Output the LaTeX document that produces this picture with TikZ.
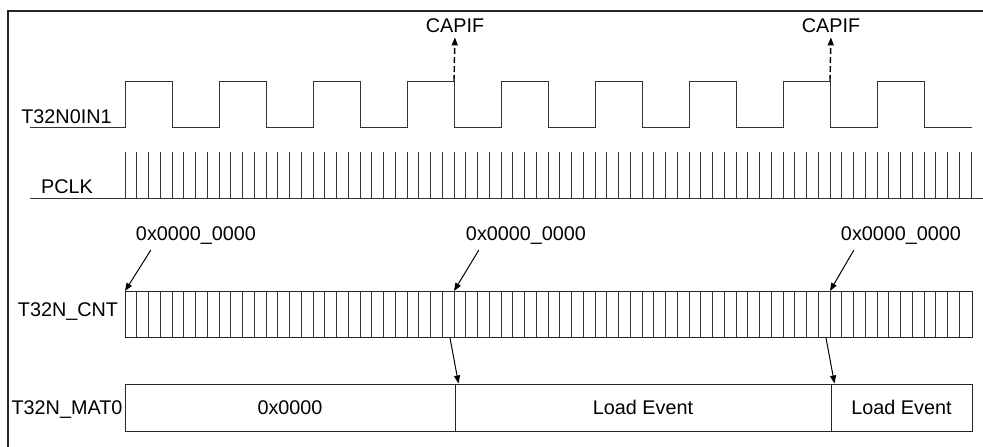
\documentclass[tikz,border=0pt]{standalone}
\usepackage{fontspec}
\setmainfont{Liberation Sans}
\usetikzlibrary{arrows.meta}
\begin{document}
\begin{tikzpicture}[x=1pt,y=-1pt,
  wave/.style={draw=black!80, line width=1pt},
  lbl/.style={font=\fontsize{19.8}{22}\selectfont, inner sep=0pt, anchor=base},
  seg/.style={draw=black!85, line width=1pt, inner sep=0pt, minimum height=47pt,
              font=\fontsize{19.8}{22}\selectfont},
  ptr/.style={draw=black, line width=1pt, -{Triangle[length=8pt,width=6pt]}},
  capflag/.style={draw=black, line width=1.4pt, dash pattern=on 6pt off 3pt,
              -{Triangle[length=8pt,width=6pt]}}]
\useasboundingbox (0,0) rectangle (983,447);
\fill[white] (0,0) rectangle (983,447);
% frame
\draw[line width=1.3pt, black!85] (8,447) -- (8,11) -- (983,11);

% T32N0IN1
\node[lbl] (lin) at (66.5,123) {T32N0IN1};
\draw[wave] (30,127) \foreach \k in {0,...,8}{ -- ({125+94*\k},127) -- ({125+94*\k},81)
   -- ({172+94*\k},81) -- ({172+94*\k},127)} -- (972,127);
\coordinate (e1) at (454,81);
\coordinate (e2) at (830,81);
\node[lbl] (cap1) at (455,32) {CAPIF};
\node[lbl] (cap2) at (831,32) {CAPIF};
\draw[capflag, shorten >=5pt] (e1) -- (cap1.south);
\draw[capflag, shorten >=5pt] (e2) -- (cap2.south);

% PCLK
\node[lbl] (lpclk) at (67,193) {PCLK};
\draw[wave] (30,198) -- (983,198);
\foreach \k in {0,...,72}{
  \draw[wave] ({125+11.75*\k},198) -- ({125+11.75*\k},152);
}

% T32N_CNT
\node[lbl] (lcnt) at (68,316) {T32N\_CNT};
\node[draw=black!85, line width=1pt, minimum width=847pt, minimum height=46pt, inner sep=0pt]
  (cnt) at (548.5,314) {};
\foreach \k in {1,...,71}{
  \draw[wave] ({125+11.75*\k},291) -- ({125+11.75*\k},337);
}
\coordinate (z1) at (125,291);
\coordinate (z2) at (454,291);
\coordinate (z3) at (830,291);
\node[lbl] (v1) at (196,240) {0x0000\_0000};
\node[lbl] (v2) at (526,240) {0x0000\_0000};
\node[lbl] (v3) at (901,240) {0x0000\_0000};
\draw[ptr] ([shift={(15,6)}]v1.south west) -- (z1);
\draw[ptr] ([shift={(13,6)}]v2.south west) -- (z2);
\draw[ptr] ([shift={(13,6)}]v3.south west) -- (z3);

% T32N_MAT0
\node[lbl] (lmat) at (67,414) {T32N\_MAT0};
\node[seg, minimum width=330pt] (m1) at (290,407.5) {0x0000};
\node[seg, minimum width=376pt] (m2) at (643,407.5) {Load Event};
\node[seg, minimum width=141pt] (m3) at (901.5,407.5) {Load Event};
\coordinate (s1) at (450,338);
\coordinate (s2) at (826,338);
\draw[ptr] (s1) -- ([xshift=4pt]m2.north west);
\draw[ptr] (s2) -- ([xshift=4pt]m3.north west);
\end{tikzpicture}
\end{document}
